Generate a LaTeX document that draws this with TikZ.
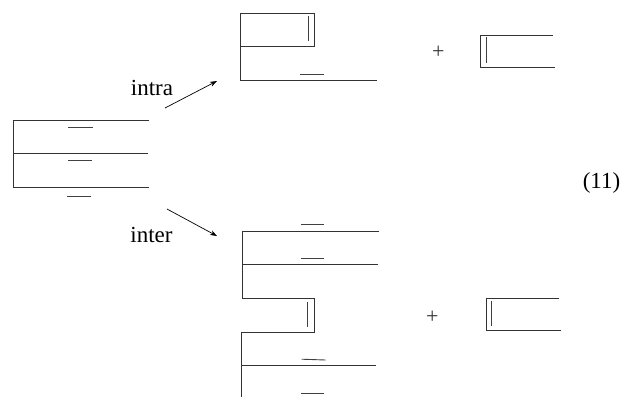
\documentclass[tikz,border=0pt]{standalone}
\usepackage{fontspec}
\setmainfont{Liberation Serif}
\usetikzlibrary{arrows.meta}
\begin{document}
\begin{tikzpicture}[x=1pt,y=-1pt,
  ln/.style={line width=0.9pt,draw=black!80},
  dsh/.style={line width=0.9pt,draw=black!75},
  arr/.style={line width=0.7pt,-{Stealth[length=7pt,width=5pt]}},
  lbl/.style={font=\fontsize{23}{26}\selectfont,inner sep=0pt},
  plus/.style={font=\fontsize{22}{24}\selectfont,inner sep=0pt,text=black!80}]
\useasboundingbox (0,0) rectangle (629,397);
% left diagram
\draw[ln] (149,120) -- (13,120) -- (13,187) -- (149,187);
\draw[ln] (13,153) -- (148,153);
\draw[dsh] (68,127) -- (93,127);
\draw[dsh] (68,160.5) -- (92,160.5);
\draw[dsh] (67,196) -- (91,196);
% arrows and labels
\coordinate (a1s) at (165,108);
\coordinate (a1e) at (217,81);
\coordinate (a2s) at (167,209);
\coordinate (a2e) at (217,236);
\draw[arr] (a1s) -- (a1e);
\draw[arr] (a2s) -- (a2e);
\node[lbl,anchor=base] (intra) at (152,95) {intra};
\node[lbl,anchor=base] (inter) at (151.5,242) {inter};
% top right diagram
\draw[ln] (240.7,46.3) -- (240.7,13.3) -- (314,13.3) -- (314,46.3) -- (240.7,46.3);
\draw[ln] (240.7,46.3) -- (240.7,80.3) -- (377,80.3);
\draw[dsh] (308.3,15.7) -- (308.3,40.7);
\draw[dsh] (299.7,74.7) -- (323.7,74.7);
\node[plus] (plus1) at (438.3,52.3) {+};
\draw[ln] (552.7,35.3) -- (480.7,35.3) -- (480.7,67.3) -- (555.3,67.3);
\draw[dsh] (486.7,37.3) -- (486.7,63.3);
% bottom right diagram
\draw[dsh] (301,224.3) -- (324.3,224.3);
\draw[ln] (379,231.7) -- (242.3,231.7) -- (242.3,298.3) -- (314.3,298.3) -- (314.3,332) -- (241,332) -- (241,396.7);
\draw[ln] (242.3,264) -- (377.7,264);
\draw[dsh] (301,258.3) -- (324,258.3);
\draw[dsh] (307,302.3) -- (307,327.3);
\draw[dsh] (301.7,359.2) -- (325.7,360);
\draw[ln] (241,365.3) -- (376.3,365.3);
\draw[dsh] (301,393.7) -- (324,393.7);
\node[plus] (plus2) at (432.3,317.7) {+};
\draw[ln] (559,298.7) -- (486,298.7) -- (486,330.7) -- (560.7,330.7);
\draw[ln] (486,297.7) -- (486,331.3);
\draw[dsh] (491.7,301.3) -- (491.7,326);
% equation number
\node[lbl] (eqn) at (601.5,183) {(11)};
\end{tikzpicture}
\end{document}
